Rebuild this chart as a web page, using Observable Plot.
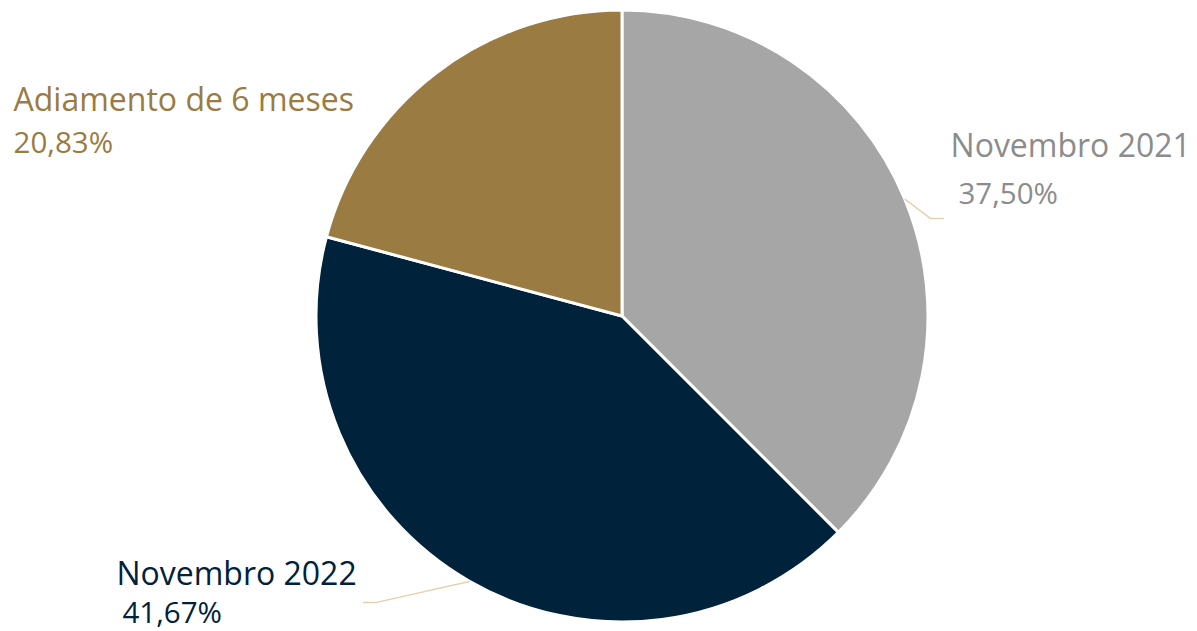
<!DOCTYPE html>
<html>
<head>
<meta charset="utf-8">
<script src="https://cdn.jsdelivr.net/npm/d3@7"></script>
<script src="https://cdn.jsdelivr.net/npm/@observablehq/plot@0.6"></script>
<style>
  html, body { margin: 0; padding: 0; background: #fff; }
  #chart { width: 1197px; height: 631px; }
</style>
</head>
<body>
<div id="chart"></div>
<script>
// Data
const categories = ["Novembro 2021", "Novembro 2022", "Adiamento de 6 meses"];
const values = [37.50, 41.67, 20.83];
const valueLabels = ["37,50%", "41,67%", "20,83%"];
const colors = ["#A6A6A6", "#00223A", "#9A7B41"];
const textColors = ["#8C8C8C", "#00223A", "#9A7B41"];

// Label placement (in pie-radius units, relative to the pie centre)
const namePos = [[1.072, 0.520], [-1.654, -0.879], [-1.990, 0.673]];
const pctPos  = [[1.098, 0.369], [-1.634, -1.003], [-1.990, 0.533]];
const leaderBend = [[1.007, 0.320, 1.049], [-0.807, -0.935, -0.846], null];

const pieGen = d3.pie().sort(null).value(d => d.value);
const table = categories.map((c, i) => ({category: c, value: values[i], label: valueLabels[i], color: colors[i], tcolor: textColors[i], i}));
const arcs = pieGen(table);

const nameData = table.map(d => ({...d, x: namePos[d.i][0], y: namePos[d.i][1]}));
const pctData = table.map(d => ({...d, x: pctPos[d.i][0], y: pctPos[d.i][1]}));

const leaders = [];
arcs.forEach((a, i) => {
  const b = leaderBend[i];
  if (!b) return;
  const mid = (a.startAngle + a.endAngle) / 2;
  leaders.push({k: i, x: Math.sin(mid), y: Math.cos(mid)});
  leaders.push({k: i, x: b[0], y: b[1]});
  leaders.push({k: i, x: b[2], y: b[1]});
});

function pieMark(index, scales) {
  const cx = scales.x(0), cy = scales.y(0);
  const r = scales.x(1) - scales.x(0);
  const arc = d3.arc().innerRadius(0).outerRadius(r);
  const g = d3.create("svg:g").attr("transform", `translate(${cx},${cy})`);
  g.selectAll("path").data(arcs).join("path")
    .attr("d", arc)
    .attr("fill", d => d.data.color)
    .attr("stroke", "#fff")
    .attr("stroke-width", 3)
    .attr("stroke-linejoin", "round");
  return g.node();
}

const chart = Plot.plot({
  width: 1197,
  height: 631,
  margin: 0,
  x: {domain: [-622 / 306, (1197 - 622) / 306], axis: null},
  y: {domain: [-(631 - 316) / 306, 316 / 306], axis: null},
  style: {fontFamily: "'Open Sans', sans-serif", background: "#fff", overflow: "visible"},
  marks: [
    pieMark,
    Plot.line(leaders, {x: "x", y: "y", z: "k", stroke: "#E2D3B0", strokeWidth: 1.5}),
    Plot.text(nameData, {x: "x", y: "y", text: "category", fill: d => d.tcolor, textAnchor: "start", lineAnchor: "bottom", fontSize: 32}),
    Plot.text(pctData, {x: "x", y: "y", text: "label", fill: d => d.tcolor, textAnchor: "start", lineAnchor: "bottom", fontSize: 29.5})
  ]
});
document.getElementById("chart").appendChild(chart);
</script>
</body>
</html>
